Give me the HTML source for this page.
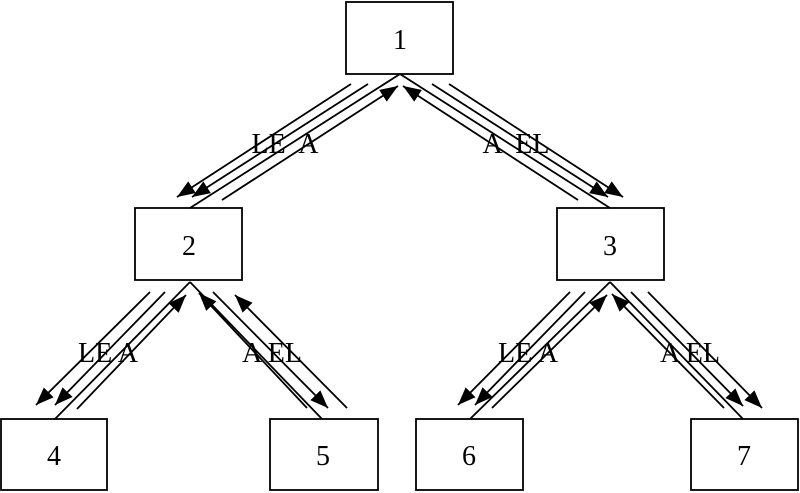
<!DOCTYPE html>
<html><head><style>body{margin:0;background:#fff}svg{display:block}text{font-family:"Liberation Serif",serif;font-size:28px;fill:#000}</style></head>
<body>
<svg width="800" height="493" viewBox="0 0 800 493" xmlns="http://www.w3.org/2000/svg">
<defs>
<marker id="a" markerUnits="userSpaceOnUse" markerWidth="20" markerHeight="14" refX="18" refY="7" orient="auto"><path d="M0,0 L18,7 L0,14 Z" fill="#000"/></marker>
</defs>
<g fill="#fff" stroke="#000" stroke-width="1.8">
<rect x="346" y="2" width="107" height="72"/>
<rect x="135" y="208" width="107" height="72"/>
<rect x="557" y="208" width="107" height="72"/>
<rect x="1" y="419" width="106" height="71"/>
<rect x="270" y="419" width="108" height="71"/>
<rect x="416" y="419" width="107" height="71"/>
<rect x="691" y="419" width="107" height="71"/>
</g>
<g stroke="#000" stroke-width="1.8" fill="none">
<line x1="351" y1="84" x2="177" y2="197" marker-end="url(#a)"/>
<line x1="368" y1="84" x2="192" y2="197" marker-end="url(#a)"/>
<line x1="190" y1="208" x2="400" y2="74"/>
<line x1="222" y1="200" x2="398" y2="86" marker-end="url(#a)"/>
<line x1="432" y1="84" x2="608" y2="197" marker-end="url(#a)"/>
<line x1="449" y1="84" x2="623" y2="197" marker-end="url(#a)"/>
<line x1="610" y1="208" x2="400" y2="74"/>
<line x1="578" y1="200" x2="403" y2="86" marker-end="url(#a)"/>
<line x1="150" y1="292" x2="36" y2="405" marker-end="url(#a)"/>
<line x1="165" y1="292" x2="55" y2="405" marker-end="url(#a)"/>
<line x1="190" y1="282" x2="55" y2="419"/>
<line x1="77" y1="409" x2="186" y2="295" marker-end="url(#a)"/>
<line x1="190" y1="282" x2="322" y2="419"/>
<line x1="307" y1="408" x2="199" y2="293" marker-end="url(#a)"/>
<line x1="213" y1="292" x2="328" y2="408" marker-end="url(#a)"/>
<line x1="347" y1="408" x2="235" y2="295" marker-end="url(#a)"/>
<line x1="570" y1="292" x2="458" y2="405" marker-end="url(#a)"/>
<line x1="585" y1="292" x2="475" y2="405" marker-end="url(#a)"/>
<line x1="610" y1="282" x2="470" y2="419"/>
<line x1="492" y1="408" x2="607" y2="295" marker-end="url(#a)"/>
<line x1="610" y1="282" x2="743" y2="419"/>
<line x1="724" y1="408" x2="612" y2="294" marker-end="url(#a)"/>
<line x1="631" y1="292" x2="743" y2="406" marker-end="url(#a)"/>
<line x1="648" y1="292" x2="762" y2="408" marker-end="url(#a)"/>
</g>
<g text-anchor="middle">
<text x="400" y="49">1</text>
<text x="189" y="255">2</text>
<text x="610" y="255">3</text>
<text x="54" y="465">4</text>
<text x="323" y="465">5</text>
<text x="469" y="465">6</text>
<text x="744" y="465">7</text>
<text x="285" y="153" xml:space="preserve">LE  A</text>
<text x="516" y="153" xml:space="preserve">A  EL</text>
<text x="108" y="362">LE A</text>
<text x="272" y="362">A EL</text>
<text x="528" y="362">LE A</text>
<text x="690" y="362">A EL</text>
</g>
</svg>
</body></html>
